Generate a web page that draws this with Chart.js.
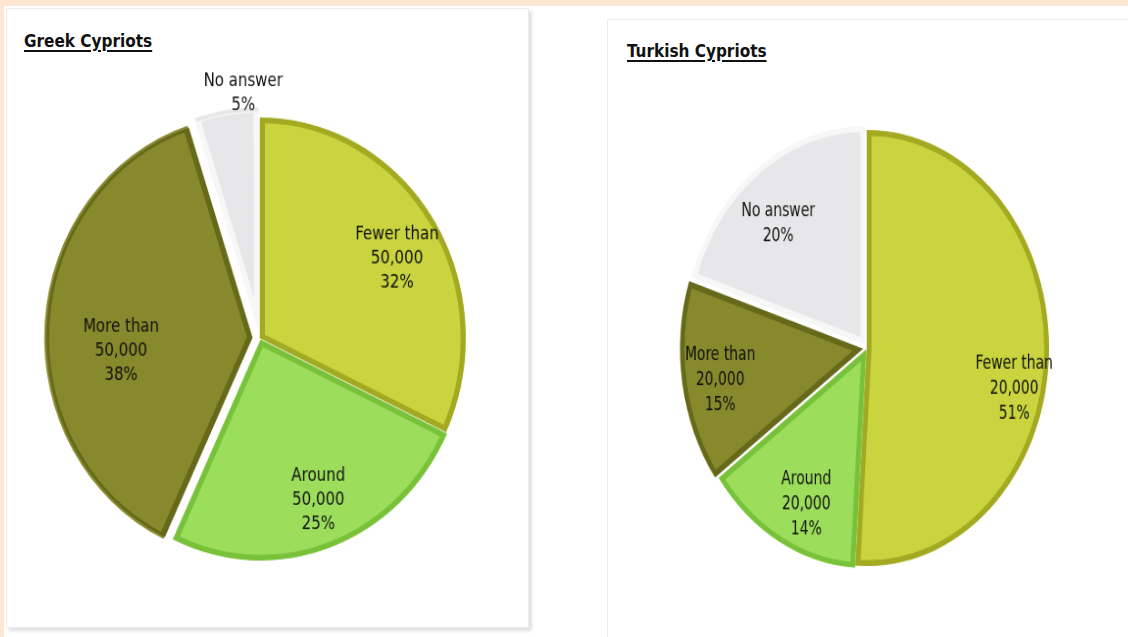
<!DOCTYPE html>
<html>
<head>
<meta charset="utf-8">
<script src="https://cdn.jsdelivr.net/npm/chart.js@4"></script>
<style>
  html, body { margin: 0; padding: 0; }
  body { width: 1128px; height: 637px; background: #fff; position: relative; overflow: hidden;
         border-top: 6px solid #fde7d3; border-left: 4px solid #fde7d3; box-sizing: border-box; }
  .panel { position: absolute; background: #fff; border: 1px solid #ececec;
           box-shadow: 3px 3px 3px rgba(0,0,0,0.12); }
  .title { position: absolute; font-family: "DejaVu Sans Condensed", "Liberation Sans", sans-serif;
           font-weight: bold; font-size: 17px; color: #111; text-decoration: underline;
           text-underline-offset: 3px; text-decoration-thickness: 2px; }
  .pie { position: absolute; }
</style>
</head>
<body>
<div class="panel" style="left:2px; top:2px; width:521px; height:618px;"></div>
<div class="panel" style="left:603px; top:13px; width:540px; height:640px;"></div>
<div class="title" style="left:20px; top:25px;">Greek Cypriots</div>
<div class="title" style="left:623px; top:35px;">Turkish Cypriots</div>
<div class="pie" style="left:6px; top:52px; width:500px; height:560px; transform: scale(0.98, 1.05);">
  <canvas id="greekPie"></canvas>
</div>
<div class="pie" style="left:623px; top:62px; width:480px; height:560px; transform: scale(0.91, 1.09);">
  <canvas id="turkishPie"></canvas>
</div>
<script>
// Greek Cypriots
const greekLabels = [['Fewer than', '50,000'], ['Around', '50,000'], ['More than', '50,000'], ['No answer']];
const greekValues = [32, 25, 38, 5];

// Turkish Cypriots
const turkishLabels = [['Fewer than', '20,000'], ['Around', '20,000'], ['More than', '20,000'], ['No answer']];
const turkishValues = [51, 14, 15, 20];

const sliceFill = ['#c9d43e', '#9cde5c', '#878a2c', '#e7e7e9'];
const sliceEdge = ['#a3aa22', '#78c23a', '#66681a', '#f7f7f7'];

// label at the slice's mid angle (+ a small turn), at a fraction of the radius
const sliceLabels = {
    id: 'sliceLabels',
    afterDatasetsDraw(chart, args, opts) {
        const ctx = chart.ctx;
        const meta = chart.getDatasetMeta(0);
        const values = chart.data.datasets[0].data;
        ctx.save();
        ctx.font = opts.font;
        ctx.fillStyle = '#111';
        ctx.textAlign = 'center';
        ctx.textBaseline = 'middle';
        meta.data.forEach(function (arc, i) {
            const p = arc.getProps(['x', 'y', 'startAngle', 'endAngle', 'outerRadius']);
            const mid = (p.startAngle + p.endAngle) / 2 + opts.turns[i] * Math.PI / 180;
            const r = p.outerRadius * opts.factors[i];
            const cx = p.x + Math.cos(mid) * r;
            const cy = p.y + Math.sin(mid) * r;
            const lines = chart.data.labels[i].concat(values[i] + '%');
            lines.forEach(function (t, k) {
                ctx.fillText(t, cx, cy + (k - (lines.length - 1) / 2) * opts.lineHeight);
            });
        });
        ctx.restore();
    }
};

function makePie(canvasId, labels, values, radius, offsets, factors, turns) {
    new Chart(document.getElementById(canvasId).getContext('2d'), {
        type: 'pie',
        data: {
            labels: labels,
            datasets: [{
                data: values,
                backgroundColor: sliceFill,
                borderColor: sliceEdge,
                borderWidth: 5,
                borderAlign: 'inner',
                offset: offsets, // chart.js moves a slice by offset / 4
            }],
        },
        options: {
            responsive: true,
            maintainAspectRatio: false,
            animation: false,
            radius: radius,
            plugins: {
                legend: { display: false },
                tooltip: { enabled: false },
                sliceLabels: {
                    font: '17px "DejaVu Sans Condensed", "Liberation Sans", sans-serif',
                    lineHeight: 23,
                    factors: factors,
                    turns: turns,
                },
            },
        },
        plugins: [sliceLabels],
    });
}

makePie('greekPie', greekLabels, greekValues, 210, [0, 8, 32, 24],
    [0.756, 0.787, 0.678, 1.114], [4.1, -1.3, -8.6, 4.8]);
makePie('turkishPie', turkishLabels, turkishValues, 200, [0, 8, 20, 16],
    [0.83, 0.79, 0.82, 0.75], [11.2, -3.8, -1.3, -4.6]);
</script>
</body>
</html>
